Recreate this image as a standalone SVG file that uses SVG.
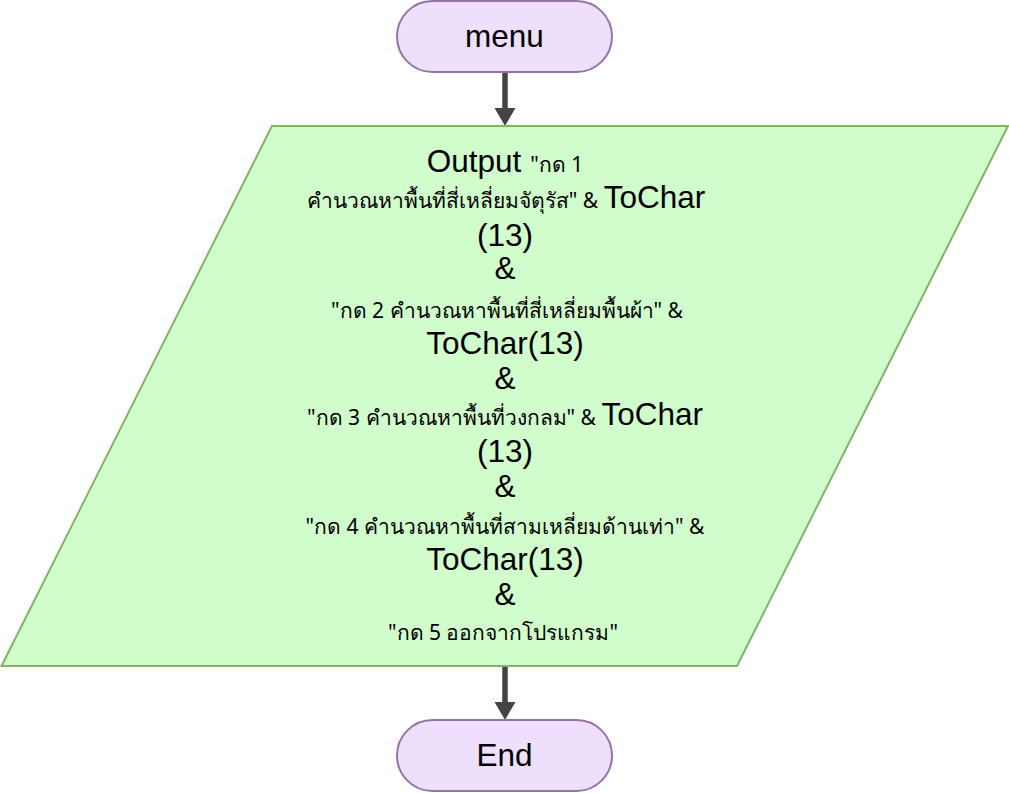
<svg xmlns="http://www.w3.org/2000/svg" width="1009" height="793" viewBox="0 0 1009 793">
<defs>
<style>
.term{fill:#eedffc;stroke:#9673a6;stroke-width:2}
.io{fill:#d0fdcb;stroke:#82b366;stroke-width:2}
.edge{stroke:#444444;stroke-width:5.5;fill:none}
.head{fill:#444444;stroke:none}
text{font-family:"Liberation Sans",Arial,sans-serif;fill:#000;text-anchor:middle}
.big{font-size:31.5px}
.sm{font-size:21px;font-family:"Noto Sans","Liberation Sans",sans-serif}
</style>
</defs>
<rect width="1009" height="793" fill="#ffffff"/>
<g id="edges">
<line class="edge" x1="505" y1="72" x2="505" y2="110"/>
<polygon class="head" points="494.5,108 515.5,108 505,126"/>
<line class="edge" x1="505" y1="666" x2="505" y2="704"/>
<polygon class="head" points="494.5,702 515.5,702 505,720"/>
</g>
<g id="menu">
<rect class="term" x="397" y="1" width="215" height="71" rx="35.5" ry="35.5"/>
<text class="big" x="504.5" y="47">menu</text>
</g>
<g id="output">
<polygon class="io" points="272,126 1008,126 737,666 1.5,666"/>
<text x="505" y="172"><tspan class="big">Output </tspan><tspan class="sm">"กด 1</tspan></text>
<text x="506" y="208"><tspan class="sm">คำนวณหาพื้นที่สี่เหลี่ยมจัตุรัส" &amp; </tspan><tspan class="big">ToChar</tspan></text>
<text class="big" x="505" y="246">(13)</text>
<text class="big" x="505" y="279">&amp;</text>
<text class="sm" x="507" y="318">"กด 2 คำนวณหาพื้นที่สี่เหลี่ยมพื้นผ้า" &amp;</text>
<text class="big" x="505" y="354">ToChar(13)</text>
<text class="big" x="505" y="389">&amp;</text>
<text x="505" y="425"><tspan class="sm">"กด 3 คำนวณหาพื้นที่วงกลม" &amp; </tspan><tspan class="big">ToChar</tspan></text>
<text class="big" x="505" y="462">(13)</text>
<text class="big" x="505" y="497">&amp;</text>
<text class="sm" x="505" y="534">"กด 4 คำนวณหาพื้นที่สามเหลี่ยมด้านเท่า" &amp;</text>
<text class="big" x="505" y="570">ToChar(13)</text>
<text class="big" x="505" y="605">&amp;</text>
<text class="sm" x="503" y="640">"กด 5 ออกจากโปรแกรม"</text>
</g>
<g id="end">
<rect class="term" x="397" y="720" width="215" height="71" rx="35.5" ry="35.5"/>
<text class="big" x="504.5" y="766">End</text>
</g>
</svg>
